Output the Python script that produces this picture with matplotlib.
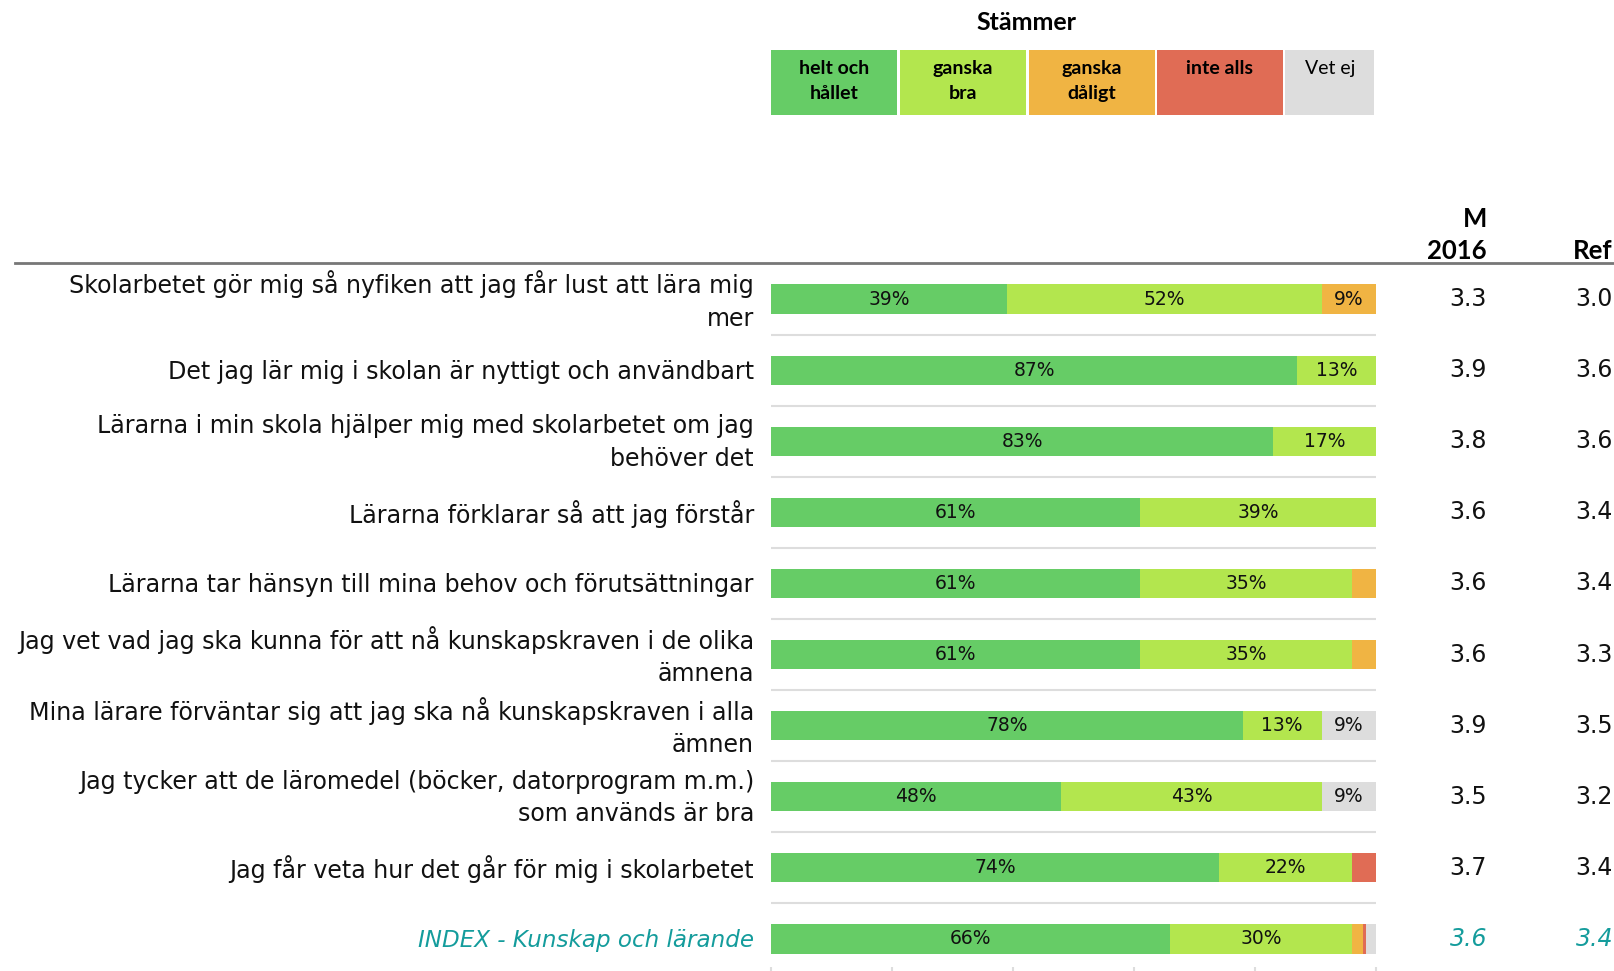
import matplotlib
matplotlib.use("Agg")
import matplotlib.pyplot as plt
import matplotlib.transforms as mtransforms
from matplotlib.patches import Rectangle
from matplotlib.lines import Line2D
import numpy as np

W, H = 1615, 971

labels = [
    "Skolarbetet gör mig så nyfiken att jag får lust att lära mig\nmer",
    "Det jag lär mig i skolan är nyttigt och användbart",
    "Lärarna i min skola hjälper mig med skolarbetet om jag\nbehöver det",
    "Lärarna förklarar så att jag förstår",
    "Lärarna tar hänsyn till mina behov och förutsättningar",
    "Jag vet vad jag ska kunna för att nå kunskapskraven i de olika\nämnena",
    "Mina lärare förväntar sig att jag ska nå kunskapskraven i alla\nämnen",
    "Jag tycker att de läromedel (böcker, datorprogram m.m.)\nsom används är bra",
    "Jag får veta hur det går för mig i skolarbetet",
    "INDEX - Kunskap och lärande",
]

helt = [39, 87, 83, 61, 61, 61, 78, 48, 74, 66]
bra = [52, 13, 17, 39, 35, 35, 13, 43, 22, 30]
daligt = [9, 0, 0, 0, 4, 4, 0, 0, 0, 1.8]
inte = [0, 0, 0, 0, 0, 0, 0, 0, 4, 0.5]
vetej = [0, 0, 0, 0, 0, 0, 9, 9, 0, 1.7]

m2016 = [3.3, 3.9, 3.8, 3.6, 3.6, 3.6, 3.9, 3.5, 3.7, 3.6]
ref = [3.0, 3.6, 3.6, 3.4, 3.4, 3.3, 3.5, 3.2, 3.4, 3.4]

cat_names = ["helt och\nhållet", "ganska\nbra", "ganska\ndåligt", "inte alls", "Vet ej"]
colors = ["#66cc66", "#b3e64e", "#f0b443", "#e06c55", "#dddddd"]

teal = "#149c9c"
sep_col = "#dddddd"

fig = plt.figure(figsize=(W / 100, H / 100), dpi=100)

# bar axes: x 771..1376 px, y rows from 263.5 to 974.5 px
x0, x1 = 771, 1376
ytop, ybot = 263.5, 974.5
ax = fig.add_axes([x0 / W, (H - ybot) / H, (x1 - x0) / W, (ybot - ytop) / H])
n = len(labels)
ypos = np.arange(n)
series = [helt, bra, daligt, inte, vetej]
left = np.zeros(n)
for vals, col in zip(series, colors):
    vals = np.array(vals, dtype=float)
    ax.barh(ypos, vals, left=left, height=0.41, color=col, edgecolor="none", zorder=2)
    for i, v in enumerate(vals):
        if v >= 8:
            ax.text(left[i] + v / 2, i, f"{int(round(v))}%", ha="center", va="center",
                    fontsize=13.5, color="#111111", family="DejaVu Sans", zorder=3)
    left += vals

ax.set_xlim(0, 100)
ax.set_ylim(n - 0.5, -0.5)
for k in range(1, n):
    ax.axhline(k - 0.5, color=sep_col, lw=1.5, zorder=1)
for s in ["top", "left", "right"]:
    ax.spines[s].set_visible(False)
ax.spines["bottom"].set_color(sep_col)
ax.spines["bottom"].set_linewidth(1.5)
ax.set_xticks(np.arange(0, 101, 20))
ax.set_xticklabels([])
ax.set_yticks([])
ax.tick_params(axis="x", direction="in", length=6, color=sep_col, width=1.5)
ax.patch.set_alpha(0)

# row labels and mean columns (x in figure, y in data rows)
trans = mtransforms.blended_transform_factory(fig.transFigure, ax.transData)
for i, lab in enumerate(labels):
    is_index = i == n - 1
    col = teal if is_index else "#111111"
    sty = "italic" if is_index else "normal"
    ax.text(754 / W, i + 0.02, lab, transform=trans, ha="right", va="center",
            multialignment="right", fontsize=16.6 if is_index else 17.1,
            family="DejaVu Sans", linespacing=1.45, color=col, style=sty,
            clip_on=False)
    ax.text(1487 / W, i, f"{m2016[i]:.1f}", transform=trans, ha="right", va="center",
            fontsize=17, family="DejaVu Sans", color=col, style=sty, clip_on=False)
    ax.text(1613 / W, i, f"{ref[i]:.1f}", transform=trans, ha="right", va="center",
            fontsize=17, family="DejaVu Sans", color=col, style=sty, clip_on=False)

# header line
fig.add_artist(Line2D([15 / W, 1.0], [(H - 263.5) / H] * 2, color="#777777", lw=2,
                      transform=fig.transFigure))

# column headers
fig.text(1487 / W, (H - 219) / H, "M", ha="right", va="center", fontsize=18.5,
         fontweight="bold", family="Lato")
fig.text(1487 / W, (H - 251) / H, "2016", ha="right", va="center", fontsize=18.5,
         fontweight="bold", family="Lato")
fig.text(1613 / W, (H - 251) / H, "Ref", ha="right", va="center", fontsize=18.5,
         fontweight="bold", family="Lato")

# legend boxes, x follows the bar scale
ltrans = mtransforms.blended_transform_factory(ax.transData, fig.transFigure)
box_left = [0, 21.3, 42.6, 63.8, 85.0]
box_w = [20.8, 20.8, 20.8, 20.8, 14.7]
by0, by1 = (H - 115) / H, (H - 50) / H
for bl, bw, col, name in zip(box_left, box_w, colors, cat_names):
    fig.add_artist(Rectangle((bl, by0), bw, by1 - by0, transform=ltrans,
                             facecolor=col, edgecolor="none"))
    fig.text(bl + bw / 2, (H - 60) / H, name, transform=ltrans, ha="center", va="top",
             fontsize=14, family="Lato", linespacing=1.55,
             fontweight="normal" if name == "Vet ej" else "bold")
fig.text(42.3, (H - 22) / H, "Stämmer", transform=ltrans, ha="center", va="center",
         fontsize=18, fontweight="bold", family="Lato")

fig.savefig("out.png", dpi=100)
